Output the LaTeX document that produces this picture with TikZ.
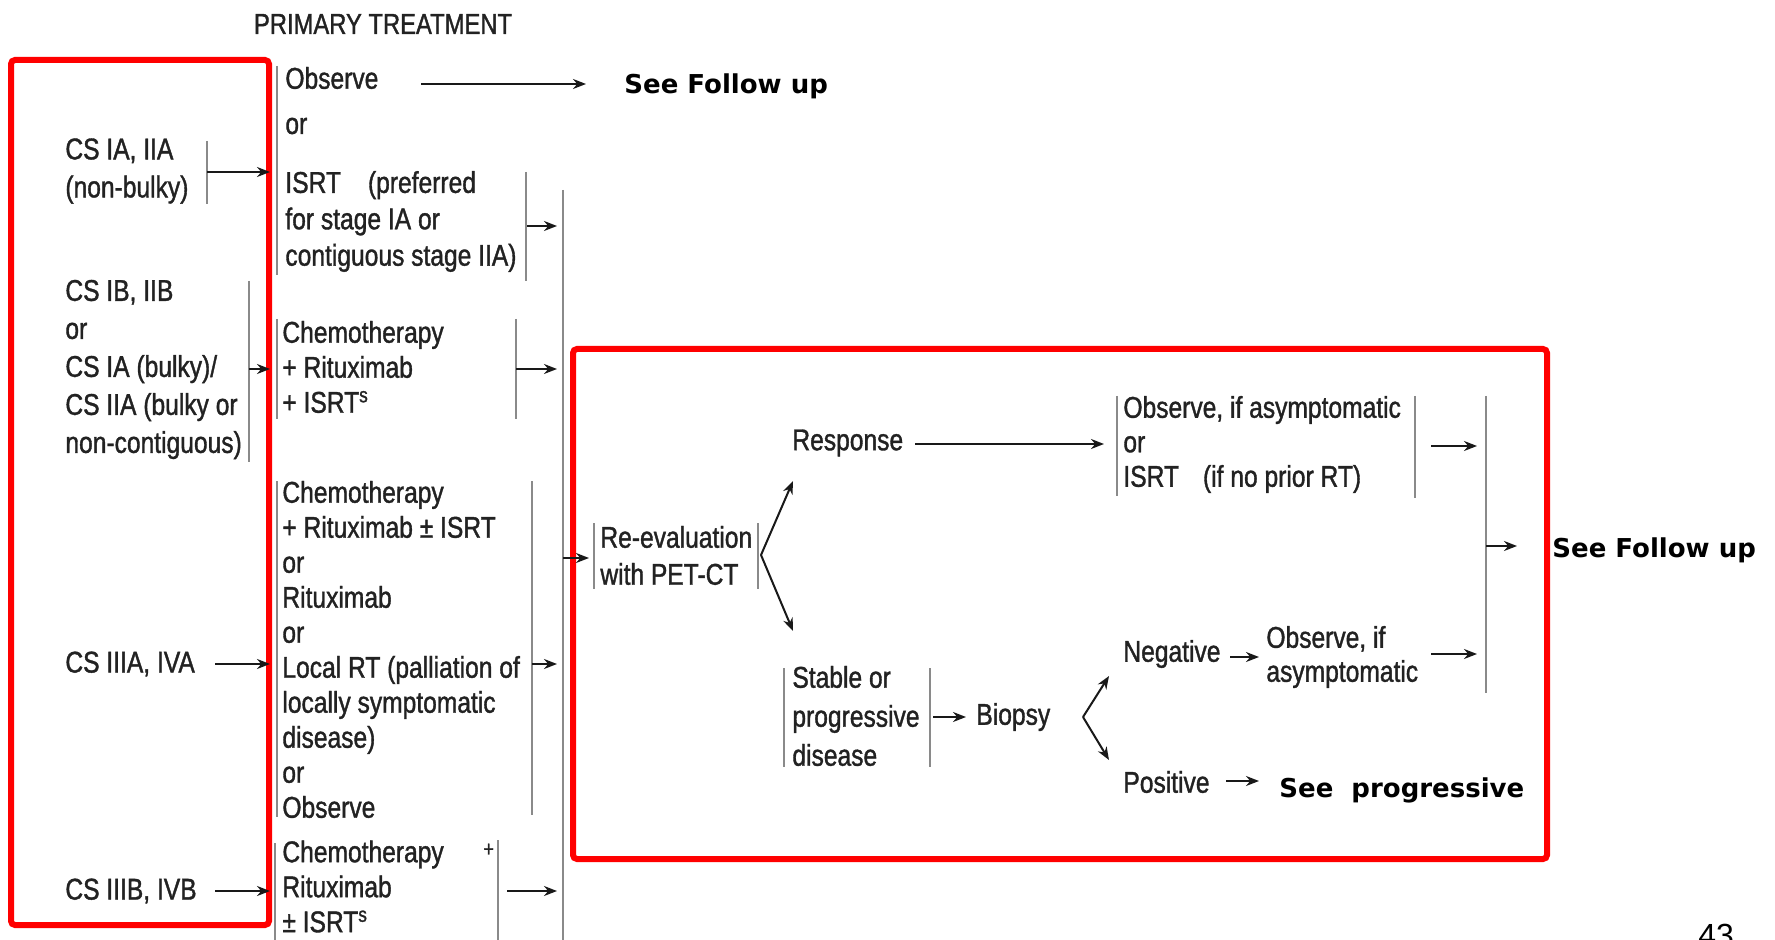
\documentclass[tikz,border=0pt]{standalone}
\usepackage{fontspec}
\setmainfont{Liberation Sans}[FakeStretch=0.82,FakeBold=1.2]
\newfontfamily\dejabold{DejaVu Sans}
\newfontfamily\plainsans{Liberation Sans}
\usetikzlibrary{arrows.meta}
\definecolor{txt}{HTML}{222222}
\definecolor{barc}{HTML}{8A8A8A}
\definecolor{redbox}{HTML}{FF0000}
\begin{document}
\begin{tikzpicture}[x=0.5pt,y=-0.5pt,
  lbl/.style={inner sep=0pt, anchor=west, align=left, text=txt, font=\fontsize{15}{17.5}\selectfont},
  lblL/.style={lbl, font=\fontsize{15}{19}\selectfont},
  bld/.style={inner sep=0pt, anchor=west, text=black, font=\dejabold\bfseries\fontsize{13}{15}\selectfont},
  barline/.style={draw=barc, line width=1pt},
  arr/.style={draw=black!90, line width=1pt, -{Stealth[length=6.5pt,width=5pt]}},
  frame/.style={draw=redbox, line width=3pt, rounded corners=2pt}]
\useasboundingbox (0,0) rectangle (1775,940);
\clip (0,0) rectangle (1775,940);
\fill[white] (0,0) rectangle (1775,940);

% ---------- red frames ----------
\draw[frame] (11,60) rectangle (269,925);
\draw[frame] (573,349) rectangle (1547,859);

% ---------- texts ----------
\node[lbl, anchor=center, font=\fontsize{14.5}{16}\selectfont] (title) at (383,24) {PRIMARY TREATMENT};
\node[lbl] (obs1) at (285,78) {Observe};
\node[lbl] (or1) at (285,126) {or};
\node[lbl, font=\fontsize{15}{18.2}\selectfont] (isrt1) at (285,221.5) {ISRT\hspace{0.9em}(preferred\\for stage IA or\\contiguous stage IIA)};
\node[lblL] (cs1) at (65,171) {CS IA, IIA\\(non-bulky)};
\node[lblL] (cs2) at (65,369.5) {CS IB, IIB\\or\\CS IA (bulky)/\\CS IIA (bulky or\\non-contiguous)};
\node[lbl] (cs3) at (65,664) {CS IIIA, IVA};
\node[lbl] (cs4) at (65,891) {CS IIIB, IVB};
\node[lbl] (ch2) at (282,367) {Chemotherapy\\+ Rituximab\\+ ISRT\textsuperscript{s}};
\node[lbl] (ch3) at (282,649.5) {Chemotherapy\\+ Rituximab ± ISRT\\or\\Rituximab\\or\\Local RT (palliation of\\locally symptomatic\\disease)\\or\\Observe};
\node[lbl] (ch4) at (282,886.5) {Chemotherapy\\Rituximab\\± ISRT\textsuperscript{s}};
\node[lbl, font=\fontsize{11}{13}\selectfont] (plus4) at (483,850) {+};
\node[bld] (sfu1) at (624,86) {See Follow up};

\node[lbl, font=\fontsize{15}{18.5}\selectfont] (reeval) at (600,555.5) {Re-evaluation\\with PET-CT};
\node[lbl] (resp) at (792,443) {Response};
\node[lbl, font=\fontsize{15}{17.25}\selectfont] (obs2) at (1123,444.5) {Observe, if asymptomatic\\or\\ISRT\hspace{0.8em}(if no prior RT)};
\node[lbl, font=\fontsize{15}{19.5}\selectfont] (stable) at (792,716) {Stable or\\progressive\\disease};
\node[lbl] (biopsy) at (976,717) {Biopsy};
\node[lbl] (neg) at (1123,654) {Negative};
\node[lbl, font=\fontsize{15}{17}\selectfont] (obs3) at (1266,657) {Observe, if\\asymptomatic};
\node[lbl] (pos) at (1123,782) {Positive};
\node[bld] (seeprog) at (1279,790) {See\ \ progressive};
\node[bld] (sfu2) at (1552,550) {See Follow up};
\node[inner sep=0pt, anchor=base west, font=\plainsans\fontsize{16}{18}\selectfont] (pg) at (1698,946) {43};

% ---------- bars ----------
\draw[barline] (277,66) -- (277,275);
\draw[barline] (526,172) -- (526,281);
\coordinate (bigTop) at (563,190);
\coordinate (bigBot) at (563,940);
\draw[barline] (bigTop) -- (bigBot);
\draw[barline] (207,141) -- (207,204);
\draw[barline] (249,281) -- (249,462);
\draw[barline] (277,319) -- (277,419);
\draw[barline] (516,319) -- (516,419);
\draw[barline] (277,481) -- (277,817);
\draw[barline] (532,481) -- (532,815);
\draw[barline] (275,843) -- (275,940);
\draw[barline] (498,840) -- (498,940);
\draw[barline] (594,523) -- (594,589);
\draw[barline] (758,523) -- (758,589);
\draw[barline] (1117,396) -- (1117,496);
\draw[barline] (1415,396) -- (1415,498);
\draw[barline] (1486,396) -- (1486,693);
\draw[barline] (784,668) -- (784,767);
\draw[barline] (930,668) -- (930,767);

% ---------- connector end points ----------
\coordinate (a1s) at (207,172);  \coordinate (a1e) at (270,172);
\coordinate (a2s) at (249,369);  \coordinate (a2e) at (270,369);
\coordinate (a3s) at (215,664);  \coordinate (a3e) at (270,664);
\coordinate (a4s) at (215,891);  \coordinate (a4e) at (270,891);
\coordinate (obsS) at (421,84);  \coordinate (obsE) at (586,84);
\coordinate (b1s) at (527,226);  \coordinate (b1e) at (557,226);
\coordinate (b2s) at (516,369);  \coordinate (b2e) at (557,369);
\coordinate (b3s) at (532,664);  \coordinate (b3e) at (557,664);
\coordinate (b4s) at (507,891);  \coordinate (b4e) at (557,891);
\coordinate (reS) at (563,558);  \coordinate (reE) at (589,558);
\coordinate (fork1) at (761,555);
\coordinate (forkU) at (793,481); \coordinate (forkD) at (793,631);
\coordinate (rsS) at (915,444);  \coordinate (rsE) at (1104,444);
\coordinate (o2S) at (1431,446); \coordinate (o2E) at (1477,446);
\coordinate (fuS) at (1486,546); \coordinate (fuE) at (1517,546);
\coordinate (stS) at (933,717);  \coordinate (stE) at (966,717);
\coordinate (fork2) at (1083,717);
\coordinate (fork2U) at (1109,676); \coordinate (fork2D) at (1109,760);
\coordinate (ngS) at (1230,657); \coordinate (ngE) at (1259,657);
\coordinate (o3S) at (1431,654); \coordinate (o3E) at (1477,654);
\coordinate (psS) at (1226,781); \coordinate (psE) at (1259,781);

% ---------- arrows ----------
\draw[arr] (a1s) -- (a1e);
\draw[arr] (a2s) -- (a2e);
\draw[arr] (a3s) -- (a3e);
\draw[arr] (a4s) -- (a4e);
\draw[arr] (obsS) -- (obsE);
\draw[arr] (b1s) -- (b1e);
\draw[arr] (b2s) -- (b2e);
\draw[arr] (b3s) -- (b3e);
\draw[arr] (b4s) -- (b4e);
\draw[arr] (reS) -- (reE);
\draw[arr] (fork1) -- (forkU);
\draw[arr] (fork1) -- (forkD);
\draw[arr] (rsS) -- (rsE);
\draw[arr] (o2S) -- (o2E);
\draw[arr] (fuS) -- (fuE);
\draw[arr] (stS) -- (stE);
\draw[arr] (fork2) -- (fork2U);
\draw[arr] (fork2) -- (fork2D);
\draw[arr] (ngS) -- (ngE);
\draw[arr] (o3S) -- (o3E);
\draw[arr] (psS) -- (psE);
\end{tikzpicture}
\end{document}
